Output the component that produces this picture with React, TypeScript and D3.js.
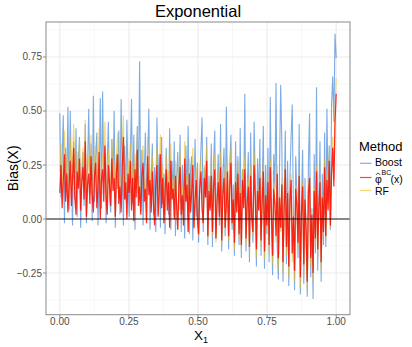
import * as d3 from 'd3';

// Bias(X), evenly spaced along X1 from 0 to 1 (240 points per method)
const boostBias = [
  0.49, 0.10, 0.28, 0.48, -0.02, 0.33, 0.15, 0.52, 0.04, 0.50,
  0.20, -0.03, 0.36, 0.09, 0.42, 0.01, 0.27, 0.38, -0.04, 0.18,
  0.31, 0.06, 0.44, -0.02, 0.24, 0.51, 0.12, 0.35, -0.01, 0.57,
  0.08, 0.29, 0.40, -0.03, 0.21, 0.56, 0.05, 0.59, 0.17, 0.33,
  -0.02, 0.26, 0.45, 0.11, 0.03, 0.37, 0.19, 0.50, -0.04, 0.30,
  0.14, 0.41, 0.02, 0.555, 0.23, -0.03, 0.34, 0.09, 0.46, 0.18,
  0.01, 0.28, 0.555, 0.07, 0.39, -0.05, 0.22, 0.43, 0.12, 0.73,
  0.04, 0.32, -0.03, 0.20, 0.40, 0.09, 0.26, 0.51, -0.05, 0.17,
  0.35, 0.02, 0.24, -0.06, 0.47, 0.13, 0.30, -0.04, 0.38, 0.07,
  0.21, -0.07, 0.33, 0.15, 0.02, 0.42, -0.05, 0.27, 0.10, 0.36,
  -0.08, 0.19, 0.31, 0.04, 0.39, -0.06, 0.25, 0.12, -0.09, 0.34,
  0.08, 0.43, -0.07, 0.22, 0.29, -0.10, 0.16, 0.37, 0.01, 0.26,
  -0.11, 0.18, 0.32, 0.47, -0.06, 0.24, 0.10, 0.38, -0.12, 0.20,
  0.05, 0.35, -0.13, 0.27, 0.41, -0.09, 0.13, 0.30, -0.03, 0.44,
  -0.15, 0.21, 0.33, -0.08, 0.52, 0.11, -0.14, 0.26, 0.39, -0.05,
  0.16, -0.17, 0.36, 0.07, 0.29, -0.12, 0.42, -0.18, 0.23, 0.10,
  0.58, -0.15, 0.13, 0.31, -0.20, 0.40, 0.04, -0.11, 0.45, 0.19,
  -0.22, 0.28, 0.08, 0.37, -0.17, 0.15, 0.43, -0.23, 0.25, -0.07,
  0.33, -0.20, 0.565, 0.06, -0.26, 0.30, 0.14, 0.63, -0.12, -0.28,
  0.24, 0.62, 0.35, -0.29, 0.09, 0.41, -0.21, 0.27, -0.31, 0.18,
  0.38, 0.53, 0.03, -0.33, 0.29, 0.12, -0.18, 0.44, -0.35, 0.07,
  0.32, -0.30, 0.19, -0.10, -0.36, 0.26, 0.49, -0.27, 0.05, -0.37,
  0.30, -0.16, 0.61, -0.24, 0.08, 0.36, -0.29, 0.21, -0.12, 0.40,
  -0.13, 0.51, 0.10, 0.34, -0.05, 0.53, 0.66, 0.45, 0.857, 0.745,
];

const rfBias = [
  0.22, 0.35, 0.08, 0.28, 0.41, 0.12, 0.30, 0.04, 0.25, 0.38,
  0.10, 0.27, 0.44, 0.16, 0.05, 0.31, 0.20, 0.36, 0.07, 0.24,
  0.33, 0.13, 0.46, 0.03, 0.22, 0.29, 0.11, 0.39, 0.18, 0.06,
  0.27, 0.34, 0.09, 0.19, 0.42, 0.02, 0.25, 0.30, 0.12, 0.45,
  0.15, 0.04, 0.32, 0.21, 0.09, 0.37, 0.18, 0.26, 0.01, 0.29,
  0.40, 0.10, 0.20, 0.05, 0.31, 0.48, 0.13, 0.23, 0.02, 0.28,
  0.16, 0.35, 0.06, 0.25, 0.00, 0.30, 0.14, 0.41, 0.08, 0.20,
  0.03, 0.26, 0.34, 0.11, 0.19, -0.01, 0.38, 0.15, 0.24, 0.05,
  0.29, 0.09, -0.02, 0.21, 0.33, 0.02, 0.17, 0.39, 0.07, 0.25,
  -0.01, 0.16, 0.30, 0.06, 0.22, -0.04, 0.35, 0.12, 0.19, 0.01,
  0.27, 0.08, -0.05, 0.20, 0.31, 0.03, 0.15, -0.03, 0.36, 0.10,
  0.21, -0.06, 0.28, 0.04, 0.16, 0.33, -0.05, 0.12, 0.24, 0.00,
  -0.08, 0.18, 0.29, 0.06, -0.03, 0.25, 0.13, 0.34, -0.09, 0.17,
  0.05, 0.26, -0.08, 0.19, 0.30, -0.11, 0.10, 0.22, 0.01, 0.31,
  -0.12, 0.14, 0.24, -0.05, 0.07, 0.28, -0.10, 0.18, 0.33, -0.03,
  0.11, -0.14, 0.22, 0.03, 0.27, -0.09, 0.15, -0.15, 0.23, 0.06,
  0.29, -0.12, 0.08, 0.19, -0.16, 0.25, 0.01, -0.08, 0.31, 0.12,
  -0.18, 0.16, 0.04, 0.23, -0.13, 0.09, 0.27, -0.19, 0.13, -0.05,
  0.20, -0.16, 0.28, 0.02, -0.21, 0.17, 0.07, -0.11, 0.25, -0.23,
  0.12, -0.06, 0.19, -0.25, 0.05, 0.26, -0.17, 0.14, -0.27, 0.09,
  0.21, -0.20, 0.00, -0.29, 0.16, 0.06, -0.14, 0.22, -0.32, 0.03,
  0.17, -0.26, 0.10, -0.07, -0.33, 0.13, 0.21, -0.22, 0.01, -0.30,
  0.15, -0.12, 0.25, -0.18, 0.04, 0.19, -0.24, 0.11, -0.08, 0.28,
  -0.10, 0.21, 0.05, 0.31, -0.04, 0.25, 0.38, 0.18, 0.52, 0.65,
];

const phiBias = [
  0.12, 0.25, 0.05, 0.18, 0.30, 0.08, 0.21, 0.03, 0.15, 0.27,
  0.06, 0.19, 0.33, 0.10, 0.02, 0.22, 0.14, 0.28, 0.04, 0.17,
  0.24, 0.09, 0.36, 0.01, 0.16, 0.21, 0.07, 0.29, 0.12, 0.03,
  0.20, 0.26, 0.05, 0.14, 0.31, 0.00, 0.18, 0.23, 0.08, 0.34,
  0.11, 0.02, 0.25, 0.16, 0.06, 0.28, 0.13, 0.19, 0.01, 0.22,
  0.30, 0.07, 0.15, 0.03, 0.24, 0.38, 0.09, 0.17, 0.00, 0.21,
  0.12, 0.27, 0.04, 0.19, -0.01, 0.23, 0.10, 0.32, 0.06, 0.15,
  0.02, 0.20, 0.26, 0.08, 0.14, -0.02, 0.29, 0.11, 0.18, 0.03,
  0.22, 0.07, -0.03, 0.16, 0.25, 0.01, 0.13, 0.30, 0.05, 0.19,
  -0.02, 0.12, 0.23, 0.04, 0.17, -0.04, 0.27, 0.09, 0.14, 0.00,
  0.20, 0.06, -0.05, 0.15, 0.24, 0.02, 0.11, -0.03, 0.28, 0.08,
  0.16, -0.06, 0.21, 0.03, 0.12, 0.25, -0.04, 0.09, 0.18, 0.00,
  -0.07, 0.14, 0.22, 0.05, -0.02, 0.19, 0.10, 0.27, -0.08, 0.13,
  0.04, 0.20, -0.06, 0.15, 0.23, -0.09, 0.08, 0.17, 0.01, 0.24,
  -0.10, 0.11, 0.19, -0.04, 0.06, 0.22, -0.08, 0.14, 0.26, -0.02,
  0.09, -0.11, 0.17, 0.03, 0.21, -0.07, 0.12, -0.12, 0.18, 0.05,
  0.23, -0.09, 0.07, 0.15, -0.13, 0.20, 0.01, -0.06, 0.25, 0.10,
  -0.14, 0.13, 0.04, 0.19, -0.10, 0.08, 0.22, -0.15, 0.11, -0.03,
  0.17, -0.12, 0.24, 0.02, -0.17, 0.14, 0.07, -0.08, 0.21, -0.18,
  0.10, -0.04, 0.16, -0.20, 0.05, 0.23, -0.13, 0.12, -0.22, 0.08,
  0.18, -0.16, 0.01, -0.24, 0.14, 0.06, -0.11, 0.20, -0.27, 0.03,
  0.15, -0.21, 0.09, -0.05, -0.29, 0.12, 0.19, -0.18, 0.02, -0.25,
  0.13, -0.09, 0.22, -0.14, 0.05, 0.17, -0.20, 0.10, -0.06, 0.24,
  -0.08, 0.18, 0.04, 0.27, -0.03, 0.21, 0.33, 0.15, 0.45, 0.58,
];

const xTicks = [0, 0.25, 0.5, 0.75, 1];
const xTickLabels = ['0.00', '0.25', '0.50', '0.75', '1.00'];
const xMinor = [0.125, 0.375, 0.625, 0.875];
const yTicks = [-0.25, 0, 0.25, 0.5, 0.75];
const yTickLabels = ['\u22120.25', '0.00', '0.25', '0.50', '0.75'];
const yMinor = [-0.375, -0.125, 0.125, 0.375, 0.625, 0.875];

const font = '"Liberation Sans", Arial, Helvetica, sans-serif';

const BLUE = '#1F6FD0';
const YELLOW = '#F0BA10';
const RED = '#FF0000';

export default function App() {
  const panel = { left: 46, right: 350, top: 22, bottom: 314.7 };

  const x = d3.scaleLinear().domain([-0.05, 1.05]).range([panel.left, panel.right]);
  const y = d3.scaleLinear().domain([-0.443, 0.912]).range([panel.bottom, panel.top]);

  const makeLine = (vals: number[]) =>
    d3
      .line<number>()
      .x((_, i) => x(i / (vals.length - 1)))
      .y((d) => y(d))(vals) || '';

  // drawing order: Boost, RF, then phi on top
  const series = [
    { name: 'Boost', vals: boostBias, color: BLUE, opacity: 0.58, width: 1.1 },
    { name: 'RF', vals: rfBias, color: YELLOW, opacity: 0.6, width: 1.15 },
    { name: 'phi', vals: phiBias, color: RED, opacity: 0.82, width: 1.25 },
  ];

  return (
    <svg
      width={412}
      height={347}
      style={{ position: 'absolute', left: 0, top: 0, background: '#fff' }}
      fontFamily={font}
    >
      <defs>
        <clipPath id="panel-clip">
          <rect x={panel.left} y={panel.top} width={panel.right - panel.left} height={panel.bottom - panel.top} />
        </clipPath>
      </defs>
      <rect x={0} y={0} width={412} height={347} fill="#fff" />

      {/* grid */}
      {xMinor.map((t) => (
        <line key={'xm' + t} x1={x(t)} x2={x(t)} y1={panel.top} y2={panel.bottom} stroke="#F3F3F3" strokeWidth={0.6} />
      ))}
      {yMinor.map((t) => (
        <line key={'ym' + t} x1={panel.left} x2={panel.right} y1={y(t)} y2={y(t)} stroke="#F3F3F3" strokeWidth={0.6} />
      ))}
      {xTicks.map((t) => (
        <line key={'xg' + t} x1={x(t)} x2={x(t)} y1={panel.top} y2={panel.bottom} stroke="#EBEBEB" strokeWidth={1.1} />
      ))}
      {yTicks.map((t) => (
        <line key={'yg' + t} x1={panel.left} x2={panel.right} y1={y(t)} y2={y(t)} stroke="#EBEBEB" strokeWidth={1.1} />
      ))}

      {/* lines */}
      <g clipPath="url(#panel-clip)">
        {series.map((s) => (
          <path
            key={s.name}
            d={makeLine(s.vals)}
            fill="none"
            stroke={s.color}
            strokeOpacity={s.opacity}
            strokeWidth={s.width}
          />
        ))}
        <line x1={panel.left} x2={panel.right} y1={y(0)} y2={y(0)} stroke="#000" strokeOpacity={0.6} strokeWidth={1.3} />
      </g>

      {/* panel border */}
      <rect
        x={panel.left}
        y={panel.top}
        width={panel.right - panel.left}
        height={panel.bottom - panel.top}
        fill="none"
        stroke="#8A8A8A"
        strokeWidth={1}
      />

      {/* axes */}
      {xTicks.map((t, i) => (
        <g key={'xt' + t}>
          <line x1={x(t)} x2={x(t)} y1={panel.bottom} y2={panel.bottom + 3} stroke="#8A8A8A" />
          <text x={x(t)} y={325} textAnchor="middle" fontSize={10} fill="#4D4D4D">
            {xTickLabels[i]}
          </text>
        </g>
      ))}
      {yTicks.map((t, i) => (
        <g key={'yt' + t}>
          <line x1={panel.left - 3} x2={panel.left} y1={y(t)} y2={y(t)} stroke="#8A8A8A" />
          <text x={42} y={y(t) + 3.5} textAnchor="end" fontSize={10} fill="#4D4D4D">
            {yTickLabels[i]}
          </text>
        </g>
      ))}

      {/* titles */}
      <text x={(panel.left + panel.right) / 2} y={17} textAnchor="middle" fontSize={16.5} fill="#000">
        Exponential
      </text>
      <text x={(panel.left + panel.right) / 2 - 4} y={339.5} fontSize={13.5} fill="#000">
        X<tspan dy={3} fontSize={9}>1</tspan>
      </text>
      <text
        transform={`translate(18, ${(panel.top + panel.bottom) / 2}) rotate(-90)`}
        textAnchor="middle"
        fontSize={14}
        fill="#000"
      >
        Bias(X)
      </text>

      {/* legend */}
      <text x={359} y={150.7} fontSize={13} fill="#000">
        Method
      </text>
      <line x1={360} x2={371.5} y1={163.3} y2={163.3} stroke={BLUE} strokeOpacity={0.55} strokeWidth={1.2} />
      <line x1={360} x2={371.5} y1={177.5} y2={177.5} stroke={RED} strokeOpacity={0.75} strokeWidth={1.2} />
      <line x1={360} x2={371.5} y1={190.5} y2={190.5} stroke={YELLOW} strokeOpacity={0.6} strokeWidth={1.2} />
      <text x={375} y={165.8} fontSize={10.5} fill="#000">
        Boost
      </text>
      <text x={375} y={183.3} fontSize={10.5} fill="#000">
        φ
      </text>
      {/* hat over phi */}
      <path d="M375.8,175 L378,172.8 L380.2,175" fill="none" stroke="#000" strokeWidth={0.7} />
      <text x={381.5} y={175} fontSize={7} fill="#000">
        BC
      </text>
      <text x={390.5} y={183.3} fontSize={10.5} fill="#000">
        (x)
      </text>
      <text x={375} y={195} fontSize={10.5} fill="#000">
        RF
      </text>
    </svg>
  );
}
